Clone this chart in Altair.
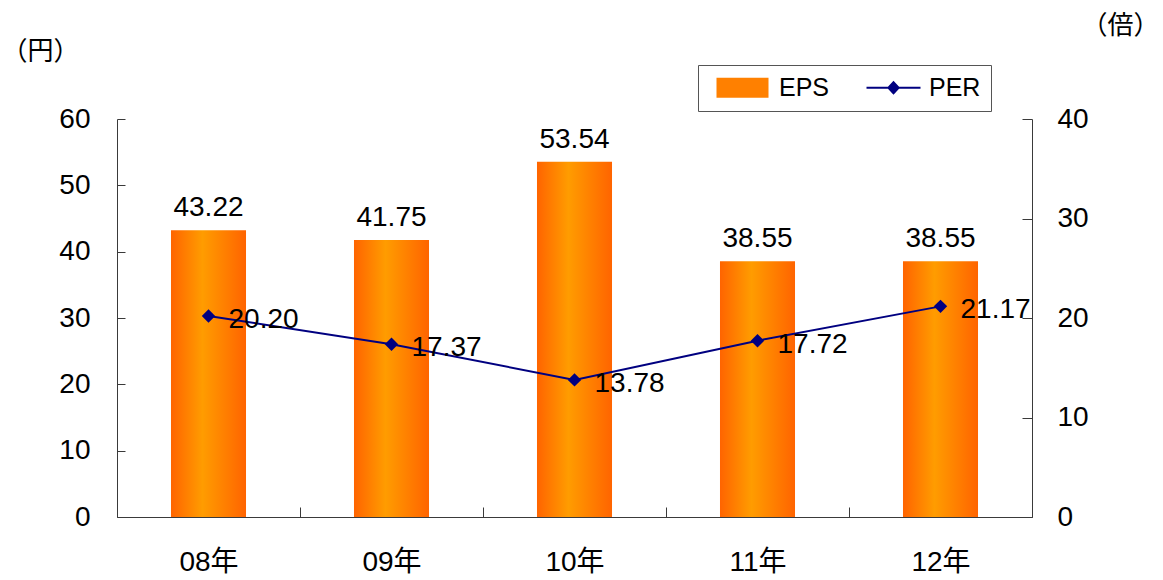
import altair as alt
import pandas as pd

categories = ["08年", "09年", "10年", "11年", "12年"]
eps_values = [43.22, 41.75, 53.54, 38.55, 38.55]
per_values = [20.20, 17.37, 13.78, 17.72, 21.17]
series_names = ["EPS", "PER"]
left_ticks = [0, 10, 20, 30, 40, 50, 60]
right_ticks = [0, 10, 20, 30, 40]

df = pd.DataFrame({"cat": categories, "EPS": eps_values, "PER": per_values})
legend_df = pd.DataFrame({"series": series_names})

FONT = "Liberation Sans, Arial, Noto Sans CJK JP, sans-serif"
AXIS_COLOR = "#3a3a3a"
NAVY = "#000080"

bar_gradient = alt.LinearGradient(
    gradient="linear",
    stops=[
        alt.GradientStop(color="#FF6400", offset=0),
        alt.GradientStop(color="#FF9C00", offset=0.42),
        alt.GradientStop(color="#FF6400", offset=1),
    ],
    x1=0, x2=1, y1=0, y2=0,
)

x_enc = alt.X(
    "cat:N", sort=categories,
    scale=alt.Scale(paddingInner=0, paddingOuter=0),
    axis=alt.Axis(title=None, labelAngle=0, tickBand="extent",
                  tickSize={"expr": "-10"}, labelPadding=41,
                  labelFontSize=28, labelColor="black",
                  domainColor=AXIS_COLOR, tickColor=AXIS_COLOR),
)

# Left (EPS) group
bars = alt.Chart(df).mark_bar(width=alt.RelativeBandSize(0.41), fill=bar_gradient).encode(
    x=x_enc,
    y=alt.Y("EPS:Q", scale=alt.Scale(domain=[0, 60]),
            axis=alt.Axis(values=left_ticks, orient="left", grid=False,
                          tickSize={"expr": "-8"}, labelPadding=35,
                          labelFontSize=28, labelColor="black",
                          domainColor=AXIS_COLOR, tickColor=AXIS_COLOR,
                          title="（円）", titleAngle=0, titleX=-116, titleY=-68,
                          titleAlign="left", titleBaseline="middle",
                          titleFontSize=26, titleFontWeight="normal")),
)
bar_labels = alt.Chart(df).mark_text(
    align="center", baseline="alphabetic", dy=-14, fontSize=28, font=FONT, color="black"
).encode(
    x=alt.X("cat:N", sort=categories),
    y=alt.Y("EPS:Q"),
    text=alt.Text("EPS:Q", format=".2f"),
)
left = alt.layer(bars, bar_labels)

# Right (PER) group
per_y = alt.Y("PER:Q", scale=alt.Scale(domain=[0, 40]),
              axis=alt.Axis(values=right_ticks, orient="right", grid=False,
                            tickSize={"expr": "-10"}, labelPadding=35,
                            labelFontSize=28, labelColor="black",
                            domainColor=AXIS_COLOR, tickColor=AXIS_COLOR,
                            title="（倍）", titleAngle=0, titleX=49, titleY=-94,
                            titleAlign="left", titleBaseline="middle",
                            titleFontSize=26, titleFontWeight="normal"))
line = alt.Chart(df).mark_line(color=NAVY, strokeWidth=2).encode(
    x=alt.X("cat:N", sort=categories), y=per_y)
points = alt.Chart(df).mark_point(filled=True, shape="diamond", size=180, color=NAVY, opacity=1).encode(
    x=alt.X("cat:N", sort=categories), y=alt.Y("PER:Q"))
per_labels = alt.Chart(df).mark_text(
    align="left", baseline="alphabetic", dx=20, dy=12, fontSize=28, font=FONT, color="black"
).encode(
    x=alt.X("cat:N", sort=categories), y=alt.Y("PER:Q"),
    text=alt.Text("PER:Q", format=".2f"),
)

eps_symbol = "M-0.4,-1L4.8,-1L4.8,1L-0.4,1Z"
per_symbol = "M-0.4,-0.1L5.0,-0.1L5.0,0.1L-0.4,0.1Z M2.3,-0.7L2.95,0L2.3,0.7L1.65,0Z"
legend_def = alt.Legend(
    orient="none", legendX=581, legendY=-54, direction="horizontal", title=None,
    labelFontSize=25, labelFont=FONT, labelColor="black", labelOffset=46,
    columnPadding=28, padding=10, strokeColor="#555555", fillColor="white",
    symbolSize=400, symbolStrokeWidth=0,
)
legend_layer = alt.Chart(legend_df).transform_filter("false").mark_point(filled=True, opacity=1).encode(
    color=alt.Color("series:N", scale=alt.Scale(domain=series_names, range=["#FF8000", NAVY]), legend=legend_def),
    shape=alt.Shape("series:N", scale=alt.Scale(domain=series_names, range=[eps_symbol, per_symbol]), legend=legend_def),
)
right = alt.layer(line, points, per_labels, legend_layer)

chart = alt.layer(left, right).resolve_scale(y="independent").properties(
    width=915, height=398, autosize="none",
    padding={"left": 117, "top": 119, "right": 131, "bottom": 63},
    background="white",
).configure_view(stroke=None).configure_axis(
    labelFont=FONT, titleFont=FONT, titleColor="black"
).configure_text(font=FONT)

chart.save("out.html", embed_options={"renderer": "svg", "actions": False})
